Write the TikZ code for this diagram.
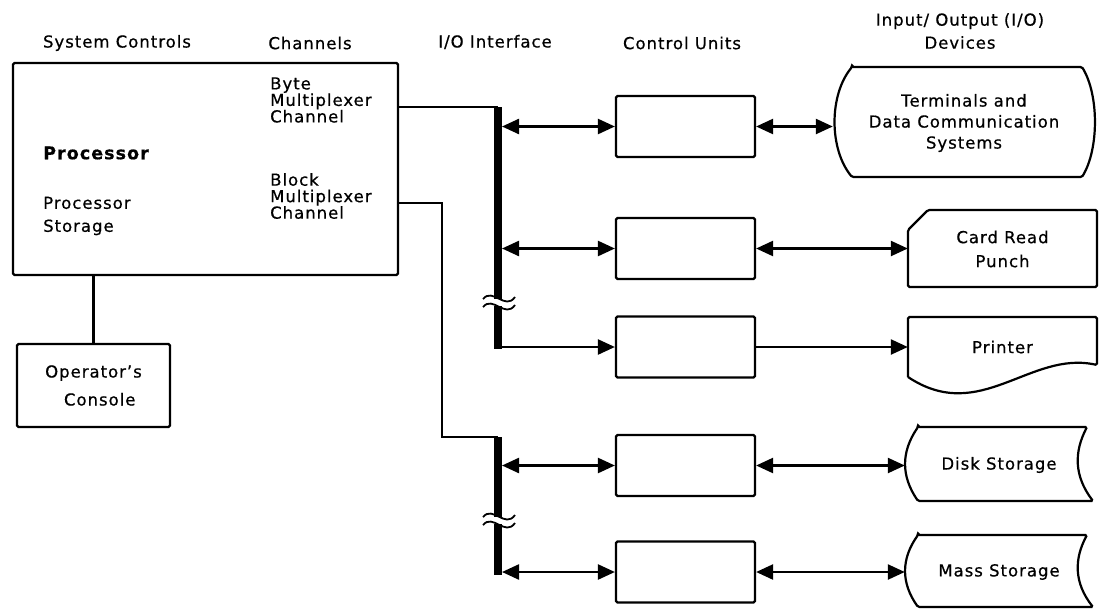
\documentclass[tikz,border=0pt]{standalone}
\usepackage{fontspec}
\setmainfont{DejaVu Sans}[LetterSpace=6, FakeBold=0.6]
\usetikzlibrary{arrows.meta, positioning}

\tikzset{
  box/.style={draw, line width=2.2pt, rounded corners=1.5pt},
  cu/.style={box, minimum width=139pt, minimum height=61pt},
  lbl/.style={inner sep=0pt, font=\fontsize{16.5}{21}\selectfont},
  dev/.style={lbl, align=center, minimum width=#1},
  link/.style={line width=2.4pt},
  bus/.style={line width=8pt},
  brk/.style={line width=1.8pt}
}

\begin{document}
\begin{tikzpicture}[x=1pt, y=-1pt, >={Triangle[length=17pt,width=15pt]}]
  \useasboundingbox (0,0) rectangle (1099,608);

  % column heads
  \node[lbl] (hsys) at (117,43) {System Controls};
  \node[lbl] (hchan) at (310,43) {Channels};
  \node[lbl] (hio) at (495,42) {I/O Interface};
  \node[lbl] (hcu) at (682,43) {Control Units};
  \node[lbl, align=center, font=\fontsize{16.5}{23}\selectfont] (hdev) at (960,31) {Input/ Output (I/O)\\Devices};

  % processor and console
  \node[box, minimum width=385pt, minimum height=212pt] (proc) at (205.5,169) {};
  \node[lbl, anchor=west, font=\fontsize{17.5}{21}\selectfont\bfseries] (pname) at (43,153) {Processor};
  \node[lbl, anchor=west, align=left, font=\fontsize{16.5}{23}\selectfont] (pstor) at (43,216) {Processor\\Storage};
  \node[lbl, anchor=west, align=left, font=\fontsize{16.5}{16.5}\selectfont] (bytech) at (270,100) {Byte\\Multiplexer\\Channel};
  \node[lbl, anchor=west, align=left, font=\fontsize{16.5}{16.5}\selectfont] (blkch) at (270,196) {Block\\Multiplexer\\Channel};
  \node[box, minimum width=153pt, minimum height=83pt, align=center, font=\fontsize{16.5}{28}\selectfont] (con) at (93.5,385.5) {Operator’s\\\ \ Console};
  \draw[link] (con.north) -- (con.north |- proc.south);

  % control units
  \node[cu] (cu1) at (685.5,126.5) {};
  \node[cu] (cu2) at (685.5,248.5) {};
  \node[cu] (cu3) at (685.5,347) {};
  \node[cu] (cu4) at (685.5,465.5) {};
  \node[cu] (cu5) at (685.5,572) {};

  % device outlines
  \draw[box] (852,67) -- (1082,67) .. controls (1099,95) and (1099,149) .. (1082,177)
    -- (852,177) .. controls (829,149) and (829,95) .. (852,67) -- cycle;
  \draw[box] (928,210) -- (1097,210) -- (1097,287) -- (908,287) -- (908,230) -- cycle;
  \draw[box] (908,377) -- (908,317) -- (1097,317) -- (1097,365)
    .. controls (1030,350) and (980,425) .. (908,377);
  \draw[box] (918,427) -- (1087,427) .. controls (1074,452) and (1074,476) .. (1093,501)
    -- (918,501) .. controls (901,476) and (901,452) .. (918,427) -- cycle;
  \draw[box] (918,535) -- (1087,535) .. controls (1074,559) and (1074,583) .. (1093,607)
    -- (918,607) .. controls (901,583) and (901,559) .. (918,535) -- cycle;

  % device labels
  \node[dev=262pt, minimum height=110pt] (term) at (964,123) {Terminals and\\Data Communication\\Systems};
  \node[dev=189pt, font=\fontsize{16.5}{24}\selectfont] (card) at (1002.5,249) {Card Read\\Punch};
  \node[dev=189pt] (prn) at (1002.5,347) {Printer};
  \node[dev=188pt] (disk) at (999,465) {Disk Storage};
  \node[dev=188pt] (mass) at (999,572) {Mass Storage};

  % channel cables and buses
  \coordinate (bus1top) at (498,107);
  \coordinate (bus1bot) at (498,349);
  \coordinate (blk) at (442,203);
  \coordinate (bus2top) at (498,437);
  \coordinate (bus2bot) at (498,575);
  \coordinate (busx) at (502,0);
  \draw[link] (proc.east |- bus1top) -- (bus1top);
  \draw[link] (proc.east |- blk) -- (blk) |- (bus2top);
  \draw[bus] (bus1top) -- (bus1bot);
  \draw[bus] (bus2top) -- (bus2bot);

  % breaks in the buses
  \foreach \y in {298,516} {
    \fill[white] (490,\y+1) rectangle (507,\y+8);
    \draw[brk] (483,\y+1) .. controls (493,\y-11) and (505,\y+13) .. (515,\y-1);
    \draw[brk] (483,\y+9) .. controls (493,\y-3) and (505,\y+21) .. (515,\y+7);
  }

  % interface to control units
  \draw[link, <->] (cu1.west -| busx) -- (cu1.west);
  \draw[link, <->] (cu2.west -| busx) -- (cu2.west);
  \draw[link, ->] (cu3.west -| bus1bot) -- (cu3.west);
  \draw[link, <->] (cu4.west -| busx) -- (cu4.west);
  \draw[link, <->] (cu5.west -| busx) -- (cu5.west);

  % control units to devices
  \draw[link, <->] (cu1.east) -- (cu1.east -| term.west);
  \draw[link, <->] (cu2.east) -- (cu2.east -| card.west);
  \draw[link, ->] (cu3.east) -- (cu3.east -| prn.west);
  \draw[link, <->] (cu4.east) -- (cu4.east -| disk.west);
  \draw[link, <->] (cu5.east) -- (cu5.east -| mass.west);
\end{tikzpicture}
\end{document}
